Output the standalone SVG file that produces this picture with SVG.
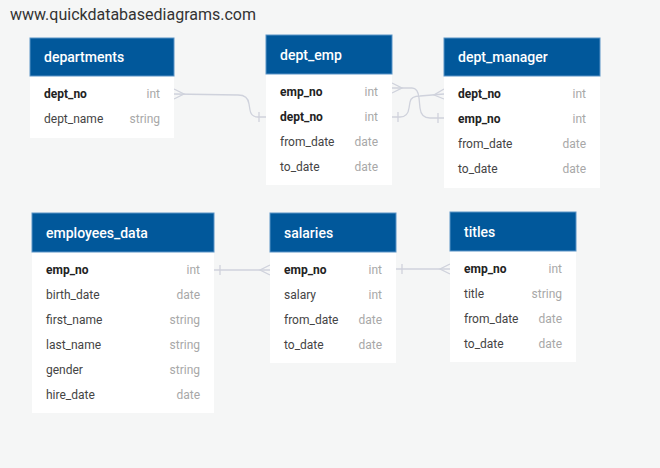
<svg xmlns="http://www.w3.org/2000/svg" width="660" height="468" viewBox="0 0 660 468">
<style>
.bg{fill:#f5f6f6}
.body{fill:#ffffff}
.hdr{fill:#01589b;stroke:#5a93c6;stroke-width:1}
.ttl{font-family:Roboto,"Liberation Sans",sans-serif;font-size:14px;font-weight:500;fill:#ffffff}
.f{font-family:Roboto,"Liberation Sans",sans-serif;font-size:12px;fill:#444444}
.k{font-weight:700;fill:#222222}
.t{font-family:Roboto,"Liberation Sans",sans-serif;font-size:12px;fill:#a8a8a8;text-anchor:end}
.url{font-family:Roboto,"Liberation Sans",sans-serif;font-size:16px;fill:#333333}
.c{fill:none;stroke:#cfd2dc;stroke-width:1.3}
</style>
<rect class="bg" x="0" y="0" width="660" height="468"/>
<text class="url" x="10" y="20">www.quickdatabasediagrams.com</text>

<g id="connectors">
  <!-- departments.dept_no -> dept_emp.dept_no -->
  <path class="c" d="M174,94 L238,95 Q248,95 249,104 L250,110 Q251,117 258,117 L266,117"/>
  <path class="c" d="M174,89 L184,94 L174,99"/>
  <path class="c" d="M259,112 L259,122"/>
  <!-- dept_emp.emp_no -> dept_manager.emp_no -->
  <path class="c" d="M392,88 L412,88 Q418,88 419,98 L420,108 Q421,118 430,118 L444,118"/>
  <path class="c" d="M392,83 L402,88 L392,93"/>
  <path class="c" d="M438,113 L438,123"/>
  <!-- dept_emp.dept_no -> dept_manager.dept_no -->
  <path class="c" d="M392,117 L400,117 Q408,117 409,108 L410,102 Q411,96 420,96 L444,94"/>
  <path class="c" d="M398,112 L398,122"/>
  <path class="c" d="M444,89 L434,95 L444,99"/>
  <!-- employees_data.emp_no -> salaries.emp_no -->
  <path class="c" d="M214,270 L270,270"/>
  <path class="c" d="M220,265 L220,275"/>
  <path class="c" d="M270,265 L260,270 L270,275"/>
  <!-- salaries.emp_no -> titles.emp_no -->
  <path class="c" d="M396,269 L450,269"/>
  <path class="c" d="M402,264 L402,274"/>
  <path class="c" d="M450,264 L440,269 L450,274"/>
</g>

<g id="departments">
  <rect class="body" x="30" y="38" width="144" height="100"/>
  <rect class="hdr" x="30" y="38" width="144" height="38"/>
  <text class="ttl" x="44" y="62">departments</text>
  <text class="f k" x="44" y="98">dept_no</text><text class="t" x="160" y="98">int</text>
  <text class="f" x="44" y="123">dept_name</text><text class="t" x="160" y="123">string</text>
</g>

<g id="dept_emp">
  <rect class="body" x="266" y="35" width="126" height="150"/>
  <rect class="hdr" x="266" y="35" width="126" height="39"/>
  <text class="ttl" x="280" y="60">dept_emp</text>
  <text class="f k" x="280" y="96">emp_no</text><text class="t" x="378" y="96">int</text>
  <text class="f k" x="280" y="121">dept_no</text><text class="t" x="378" y="121">int</text>
  <text class="f" x="280" y="146">from_date</text><text class="t" x="378" y="146">date</text>
  <text class="f" x="280" y="171">to_date</text><text class="t" x="378" y="171">date</text>
</g>

<g id="dept_manager">
  <rect class="body" x="444" y="38" width="156" height="150"/>
  <rect class="hdr" x="444" y="38" width="156" height="38"/>
  <text class="ttl" x="458" y="62">dept_manager</text>
  <text class="f k" x="458" y="98">dept_no</text><text class="t" x="586" y="98">int</text>
  <text class="f k" x="458" y="123">emp_no</text><text class="t" x="586" y="123">int</text>
  <text class="f" x="458" y="148">from_date</text><text class="t" x="586" y="148">date</text>
  <text class="f" x="458" y="173">to_date</text><text class="t" x="586" y="173">date</text>
</g>

<g id="employees_data">
  <rect class="body" x="32" y="213" width="182" height="200"/>
  <rect class="hdr" x="32" y="213" width="182" height="39"/>
  <text class="ttl" x="46" y="238">employees_data</text>
  <text class="f k" x="46" y="274">emp_no</text><text class="t" x="200" y="274">int</text>
  <text class="f" x="46" y="299">birth_date</text><text class="t" x="200" y="299">date</text>
  <text class="f" x="46" y="324">first_name</text><text class="t" x="200" y="324">string</text>
  <text class="f" x="46" y="349">last_name</text><text class="t" x="200" y="349">string</text>
  <text class="f" x="46" y="374">gender</text><text class="t" x="200" y="374">string</text>
  <text class="f" x="46" y="399">hire_date</text><text class="t" x="200" y="399">date</text>
</g>

<g id="salaries">
  <rect class="body" x="270" y="213" width="126" height="150"/>
  <rect class="hdr" x="270" y="213" width="126" height="39"/>
  <text class="ttl" x="284" y="238">salaries</text>
  <text class="f k" x="284" y="274">emp_no</text><text class="t" x="382" y="274">int</text>
  <text class="f" x="284" y="299">salary</text><text class="t" x="382" y="299">int</text>
  <text class="f" x="284" y="324">from_date</text><text class="t" x="382" y="324">date</text>
  <text class="f" x="284" y="349">to_date</text><text class="t" x="382" y="349">date</text>
</g>

<g id="titles">
  <rect class="body" x="450" y="212" width="126" height="150"/>
  <rect class="hdr" x="450" y="212" width="126" height="39"/>
  <text class="ttl" x="464" y="237">titles</text>
  <text class="f k" x="464" y="273">emp_no</text><text class="t" x="562" y="273">int</text>
  <text class="f" x="464" y="298">title</text><text class="t" x="562" y="298">string</text>
  <text class="f" x="464" y="323">from_date</text><text class="t" x="562" y="323">date</text>
  <text class="f" x="464" y="348">to_date</text><text class="t" x="562" y="348">date</text>
</g>
</svg>
